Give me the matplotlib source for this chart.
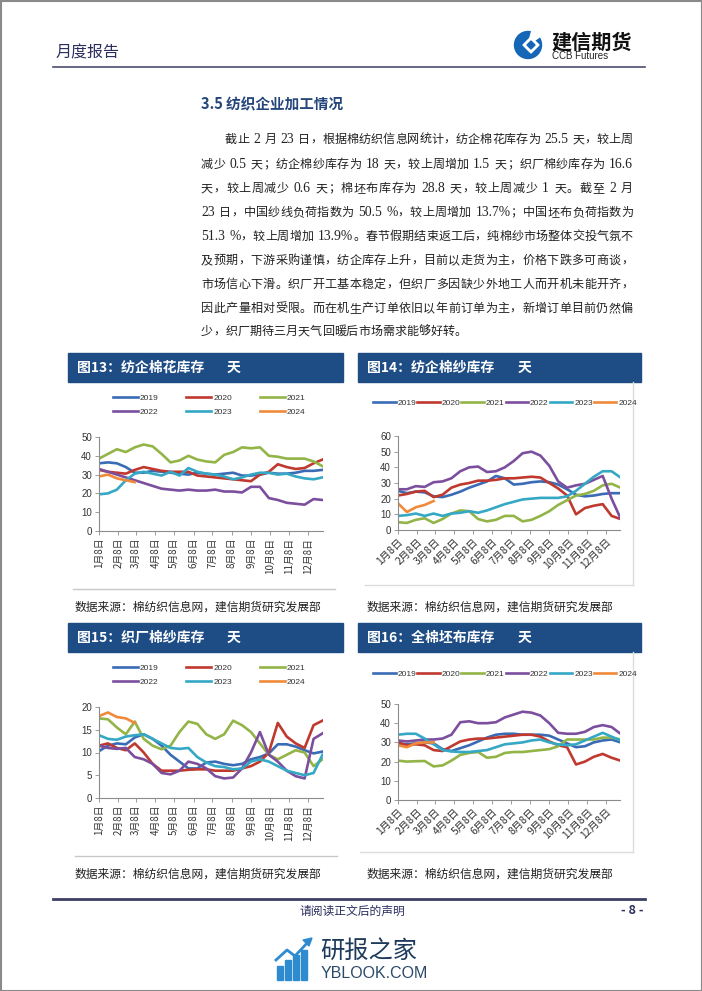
import matplotlib
matplotlib.use('Agg')
import matplotlib.pyplot as plt
import numpy as np
from matplotlib.patches import Rectangle, Circle, Polygon, Wedge
from matplotlib.font_manager import FontProperties

plt.rcParams['font.family'] = ['Noto Sans CJK SC', 'DejaVu Sans']

# --- data (weekly inventory days, read every ~2 weeks) ---
weeks = np.linspace(0, 51, 26)
month_pos = [0, 4.43, 8.43, 12.86, 17.14, 21.57, 25.86, 30.29, 34.71, 39.0, 43.43, 47.71]
month_labels = ['1月8日', '2月8日', '3月8日', '4月8日', '5月8日', '6月8日',
                '7月8日', '8月8日', '9月8日', '10月8日', '11月8日', '12月8日']
years = ['2019', '2020', '2021', '2022', '2023', '2024']
colors = ['#3A6BB5', '#C0392F', '#93B447', '#7B4F9D', '#34A8C4', '#F08A3A']

# 图13 纺企棉花库存
c13_2019 = [36.0, 36.5, 36.0, 34.0, 31.0, 31.0, 32.0, 31.5, 31.0, 30.5, 30.0, 31.0, 30.5,
            30.0, 30.5, 31.0, 29.5, 29.5, 30.0, 31.0, 30.5, 30.5, 31.0, 32.0, 32.0, 32.5]
c13_2020 = [32.5, 31.5, 31.0, 30.5, 32.5, 34.0, 33.0, 32.0, 31.5, 31.5, 31.5, 29.5, 29.0,
            28.5, 28.0, 27.5, 27.0, 26.5, 30.0, 31.5, 35.5, 34.0, 33.0, 33.5, 36.0, 38.0]
c13_2021 = [38.5, 41.0, 43.5, 42.0, 44.5, 46.0, 45.0, 41.0, 36.5, 37.5, 40.0, 38.0, 37.0,
            36.5, 40.5, 42.0, 44.5, 44.0, 44.5, 40.0, 39.5, 38.5, 38.5, 38.5, 37.0, 34.5]
c13_2022 = [33.0, 31.5, 30.0, 28.5, 27.0, 25.5, 24.0, 22.5, 22.0, 21.5, 22.0, 21.5, 21.5,
            22.0, 21.0, 21.0, 20.5, 23.5, 23.5, 17.5, 16.5, 15.0, 14.5, 14.0, 17.0, 16.5]
c13_2023 = [19.5, 20.0, 22.0, 27.0, 30.5, 31.5, 30.5, 29.5, 31.5, 29.5, 33.5, 31.5, 30.5,
            30.0, 29.0, 27.5, 28.5, 30.0, 31.0, 31.0, 30.0, 30.5, 29.0, 28.0, 27.5, 28.5]
c13_2024 = [29.0, 30.0, 28.0, 27.0, 26.0]

# 图14 纺企棉纱库存
c14_2019 = [25.0, 23.5, 24.5, 24.0, 21.5, 21.0, 22.5, 24.5, 27.0, 29.0, 31.0, 34.5, 33.0,
            29.0, 29.5, 30.5, 31.0, 30.5, 29.0, 26.0, 22.5, 21.5, 22.0, 23.0, 23.5, 23.5]
c14_2020 = [22.0, 23.0, 24.5, 25.0, 21.0, 22.5, 27.0, 29.0, 30.0, 31.5, 31.5, 32.0, 33.0,
            33.0, 33.5, 34.0, 33.5, 30.0, 26.5, 22.0, 10.0, 14.0, 15.5, 16.5, 9.0, 7.0]
c14_2021 = [5.0, 4.5, 6.5, 7.5, 4.5, 7.0, 10.5, 12.5, 12.0, 7.0, 5.5, 6.5, 9.0,
            9.0, 5.5, 6.5, 9.0, 12.0, 16.0, 19.0, 22.0, 23.0, 25.0, 28.5, 29.5, 27.0]
c14_2022 = [26.0, 26.0, 28.0, 27.5, 30.5, 31.0, 33.0, 37.5, 40.0, 40.5, 37.0, 37.5, 40.0,
            44.0, 49.0, 50.0, 47.5, 41.0, 31.0, 27.0, 28.5, 29.5, 32.0, 34.5, 20.0, 7.5]
c14_2023 = [9.0, 9.5, 10.5, 9.0, 10.5, 9.0, 10.5, 11.0, 12.0, 11.0, 12.5, 14.5, 16.5,
            18.0, 19.5, 20.0, 20.5, 20.5, 20.5, 21.5, 25.0, 29.5, 34.0, 37.5, 37.5, 33.5]
c14_2024 = [17.0, 11.5, 14.5, 16.0, 18.5]

# 图15 织厂棉纱库存
c15_2019 = [10.3, 11.5, 12.0, 11.8, 13.3, 14.0, 13.0, 11.5, 9.5, 8.0, 6.5, 6.5, 7.8,
            8.0, 7.5, 7.2, 7.5, 8.5, 9.0, 9.8, 11.8, 11.8, 11.3, 10.5, 9.8, 10.2]
c15_2020 = [11.5, 12.0, 11.0, 10.5, 12.0, 10.0, 7.5, 6.0, 6.0, 6.0, 6.2, 6.3, 6.3,
            6.0, 6.0, 6.0, 6.5, 7.0, 8.0, 10.0, 16.5, 13.5, 12.0, 11.0, 16.0, 17.0]
c15_2021 = [17.5, 17.3, 15.5, 14.0, 16.8, 13.0, 11.5, 10.7, 11.5, 14.5, 16.8, 16.3, 14.0,
            13.0, 14.0, 17.0, 16.0, 14.5, 12.0, 9.5, 8.5, 9.5, 10.5, 10.0, 7.0, 8.5]
c15_2022 = [11.5, 11.0, 10.8, 11.0, 9.0, 8.5, 7.5, 5.5, 5.2, 6.0, 8.0, 7.5, 6.5,
            4.8, 4.3, 4.5, 6.5, 10.0, 14.5, 9.5, 8.0, 6.0, 4.8, 4.3, 13.0, 14.2]
c15_2023 = [13.8, 13.0, 12.8, 13.5, 13.8, 14.0, 13.0, 12.0, 11.0, 10.8, 11.0, 9.0, 7.8,
            7.0, 6.8, 6.3, 6.5, 8.0, 8.5, 8.0, 7.0, 6.0, 5.5, 5.0, 5.5, 9.5]
c15_2024 = [18.0, 18.8, 17.8, 17.5, 16.5]

# 图16 全棉坯布库存
c16_2019 = [29.5, 29.0, 29.5, 30.0, 29.5, 26.5, 25.5, 27.0, 28.5, 30.5, 32.5, 34.0, 34.5,
            34.5, 34.0, 34.0, 34.0, 33.5, 31.5, 29.5, 27.5, 28.0, 30.0, 31.0, 31.5, 30.0]
c16_2020 = [30.0, 28.5, 29.0, 28.5, 26.0, 25.5, 28.0, 30.5, 31.5, 32.0, 32.0, 32.5, 33.0,
            33.5, 34.0, 34.0, 33.0, 30.5, 28.5, 27.5, 18.5, 20.0, 22.5, 24.0, 22.0, 20.5]
c16_2021 = [20.5, 20.0, 20.2, 20.3, 17.5, 18.0, 20.5, 23.5, 24.5, 25.0, 22.0, 22.5, 24.5,
            25.0, 25.0, 25.5, 26.0, 26.5, 28.0, 31.5, 31.5, 31.5, 31.5, 32.5, 32.5, 31.5]
c16_2022 = [31.0, 30.5, 31.0, 31.5, 31.5, 32.0, 34.0, 40.5, 41.0, 40.0, 40.0, 40.5, 43.0,
            44.5, 46.0, 45.5, 44.0, 40.0, 35.0, 34.5, 34.5, 35.5, 38.0, 39.0, 38.0, 34.5]
c16_2023 = [34.0, 34.5, 34.5, 32.0, 29.0, 26.0, 25.3, 25.0, 25.0, 25.5, 26.0, 27.5, 29.0,
            29.5, 30.0, 31.0, 31.5, 30.0, 29.0, 28.5, 29.0, 31.0, 33.0, 35.0, 33.0, 31.0]
c16_2024 = [28.5, 27.5, 29.5, 30.0, 30.0]

body_lines = [
    '截止 2 月 23 日，根据棉纺织信息网统计，纺企棉花库存为 25.5 天，较上周',
    '减少 0.5 天；纺企棉纱库存为 18 天，较上周增加 1.5 天；织厂棉纱库存为 16.6',
    '天，较上周减少 0.6 天；棉坯布库存为 28.8 天，较上周减少 1 天。截至 2 月',
    '23 日，中国纱线负荷指数为 50.5 %，较上周增加 13.7%；中国坯布负荷指数为',
    '51.3 %，较上周增加 13.9%。春节假期结束返工后，纯棉纱市场整体交投气氛不',
    '及预期，下游采购谨慎，纺企库存上升，目前以走货为主，价格下跌多可商谈，',
    '市场信心下滑。织厂开工基本稳定，但织厂多因缺少外地工人而开机未能开齐，',
    '因此产量相对受限。而在机生产订单依旧以年前订单为主，新增订单目前仍然偏',
    '少，织厂期待三月天气回暖后市场需求能够好转。',
]
source_text = '数据来源：棉纺织信息网，建信期货研究发展部'

# --- page setup (pixel coordinates) ---
W, H = 702, 991
fig = plt.figure(figsize=(W / 100, H / 100), dpi=100)
page = fig.add_axes([0, 0, 1, 1])
page.set_xlim(0, W)
page.set_ylim(H, 0)
page.axis('off')

navy = '#1E4C84'
ink = '#2B2F5E'
page.add_patch(Rectangle((0.5, 0.5), W - 1, H - 1, fill=False, ec='#8a8a8a', lw=1.5))

# header
page.text(56, 53, '月度报告', fontsize=11.5, color=ink, va='center', weight='medium')
page.plot([53, 645], [67, 67], color='#4A4D6E', lw=1.2)
page.add_patch(Circle((528, 45), 13.5, color='#1566B7'))
page.add_patch(Wedge((528, 45), 14.5, -75, -35, color='white'))
page.add_patch(Polygon([[523, 45], [531, 37], [539, 45], [531, 53]], color='white'))
page.add_patch(Polygon([[527, 45], [531, 41], [535, 45], [531, 49]], color='#1566B7'))
page.text(551, 42, '建信期货', fontsize=14.5, weight='bold', color='#111111', va='center')
page.text(552, 56, 'CCB Futures', fontsize=7, family='Liberation Sans', color='#222222', va='center')

# section heading
page.text(201, 104, '3.5 纺织企业加工情况', fontsize=10.5, weight='bold', color='#24467A', va='center')

# justified body text
renderer = fig.canvas.get_renderer()
fp_cjk = FontProperties(family='Noto Sans CJK SC', size=8.7)
fp_lat = FontProperties(family='Liberation Serif', size=9.8)
em = 8.7 * 100 / 72


def split_tokens(s):
    out, buf = [], ''
    for ch in s:
        if ord(ch) < 128 and ch != ' ':
            buf += ch
        else:
            if buf:
                out.append(buf)
                buf = ''
            out.append(ch)
    if buf:
        out.append(buf)
    return out


def tok_width(t):
    if t == ' ':
        return 4.0
    if ord(t[0]) >= 128:
        return em
    w, h, d = renderer.get_text_width_height_descent(t, fp_lat, ismath=False)
    return w


line_y = [138, 163, 187, 211, 235, 259, 283, 307, 330]
for i, (s, y) in enumerate(zip(body_lines, line_y)):
    x0 = 225 if i == 0 else 201
    toks = split_tokens(s)
    ws = [tok_width(t) for t in toks]
    if i < len(body_lines) - 1:
        gap = (633 - x0 - sum(ws)) / (len(toks) - 1)
    else:
        gap = 0.0
    x = x0
    for t, w in zip(toks, ws):
        if t != ' ':
            fp = fp_lat if ord(t[0]) < 128 else fp_cjk
            page.text(x, y + 5, t, fontproperties=fp, color='#222222', va='baseline', ha='left')
        x += w + gap

# --- charts ---
charts = [
    dict(num='13', title='纺企棉花库存', series=[c13_2019, c13_2020, c13_2021, c13_2022, c13_2023, c13_2024],
         ymax=50, bar=(68, 343, 353, 382), ax=(99, 322.5, 437, 531), rot=90, ncol=3, leg=(113, 405),
         src=(75, 607), title_x=77, tian_x=227),
    dict(num='14', title='纺企棉纱库存', series=[c14_2019, c14_2020, c14_2021, c14_2022, c14_2023, c14_2024],
         ymax=60, bar=(358, 641, 353, 382), ax=(398, 620.5, 436, 530), rot=45, ncol=6, leg=(373, 403),
         src=(367, 607), title_x=367, tian_x=518),
    dict(num='15', title='织厂棉纱库存', series=[c15_2019, c15_2020, c15_2021, c15_2022, c15_2023, c15_2024],
         ymax=20, bar=(68, 343, 623, 652), ax=(99, 322.5, 707, 798), rot=90, ncol=3, leg=(113, 675),
         src=(75, 874), title_x=77, tian_x=227),
    dict(num='16', title='全棉坯布库存', series=[c16_2019, c16_2020, c16_2021, c16_2022, c16_2023, c16_2024],
         ymax=50, bar=(358, 641, 623, 652), ax=(398, 620.5, 704, 800), rot=45, ncol=6, leg=(373, 674),
         src=(367, 874), title_x=367, tian_x=518),
]

leg_fp = FontProperties(family='Liberation Sans', size=6)
tick_fp = FontProperties(family='Liberation Sans', size=7)

for c in charts:
    bx0, bx1, by0, by1 = c['bar']
    page.add_patch(Rectangle((bx0, by0), bx1 - bx0, by1 - by0, color=navy))
    ym = (by0 + by1) / 2
    page.text(c['title_x'], ym, '图' + c['num'] + '：' + c['title'], color='white',
              fontsize=10, weight='bold', va='center')
    page.text(c['tian_x'], ym, '天', color='white', fontsize=10, weight='bold', va='center')
    page.text(c['src'][0], c['src'][1], source_text, fontsize=8.5, color='#222222',
              va='center', style='italic')

    x0, x1, yt, yb = c['ax']
    ax = fig.add_axes([x0 / W, 1 - yb / H, (x1 - x0) / W, (yb - yt) / H])
    ax.set_facecolor('none')
    handles = []
    for yr, col, vals in zip(years, colors, c['series']):
        ln, = ax.plot(weeks[:len(vals)], vals, color=col, lw=1.9, label=yr)
        handles.append(ln)
    ax.set_xlim(0, 51)
    ax.set_ylim(0, c['ymax'])
    ax.set_yticks(np.arange(0, c['ymax'] + 1, 10 if c['ymax'] > 20 else 5))
    for sp in ['top', 'right']:
        ax.spines[sp].set_visible(False)
    for sp in ['left', 'bottom']:
        ax.spines[sp].set_color('#8c8c8c')
        ax.spines[sp].set_linewidth(0.8)
    ax.tick_params(length=3, width=0.6, color='#8c8c8c', pad=2, labelcolor='#333333')
    for lbl in ax.get_yticklabels():
        lbl.set_fontproperties(tick_fp)
    ax.set_xticks(month_pos)
    if c['rot'] == 90:
        ax.set_xticklabels(month_labels, rotation=90, ha='center', va='top', fontsize=7)
    else:
        ax.set_xticklabels(month_labels, rotation=45, ha='right', va='top', fontsize=7.5,
                           rotation_mode='anchor')

    if c['ncol'] == 3:
        hl, cs = 3.0, 3.3
        # legend fills column by column: reorder so rows read 2019-2021 / 2022-2024
        order = [0, 3, 1, 4, 2, 5]
    else:
        hl, cs = 2.7, 0.1
        order = [0, 1, 2, 3, 4, 5]
    ax.legend([handles[k] for k in order], [years[k] for k in order], ncol=c['ncol'], loc='center left',
              bbox_to_anchor=(c['leg'][0] / W, 1 - c['leg'][1] / H), bbox_transform=fig.transFigure,
              frameon=False, prop=leg_fp, handlelength=hl, handletextpad=0.25, columnspacing=cs,
              borderpad=0, borderaxespad=0, labelspacing=0.75, labelcolor='#333333')

# separators / light frames around charts
page.plot([73, 335], [589, 589], color='#c8c8c8', lw=1)
page.plot([75, 337], [856, 856], color='#c8c8c8', lw=1)
page.plot([633, 633], [382, 585], color='#dcdcdc', lw=1)
page.plot([365, 633], [585, 585], color='#dcdcdc', lw=1)
page.plot([633, 633], [652, 852], color='#dcdcdc', lw=1)
page.plot([360, 633], [852, 852], color='#dcdcdc', lw=1)

# footer
page.plot([53, 645], [899, 899], color='#3C3F63', lw=2)
page.text(352, 911, '请阅读正文后的声明', fontsize=8.5, color=ink, ha='center', va='center')
page.text(632, 911, '- 8 -', fontsize=9, color=ink, ha='center', va='center', weight='bold')

# watermark
for bx, top in zip([277, 285, 293, 301], [966, 960, 955, 950]):
    page.add_patch(Rectangle((bx, top), 5.5, 980 - top, color='#2E8BD0'))
page.plot([276, 287, 295, 309], [960, 950, 956, 941], color='#2E8BD0', lw=2)
page.add_patch(Polygon([[312, 938], [303, 940], [309, 946]], color='#2E8BD0'))
page.text(320, 951, '研报之家', fontsize=17.5, color='#1F3B5C', va='center')
page.text(321, 974, 'YBLOOK.COM', fontsize=11.5, color='#2A4A6A', va='center', family='Liberation Sans')

fig.savefig('out.png', dpi=100)
